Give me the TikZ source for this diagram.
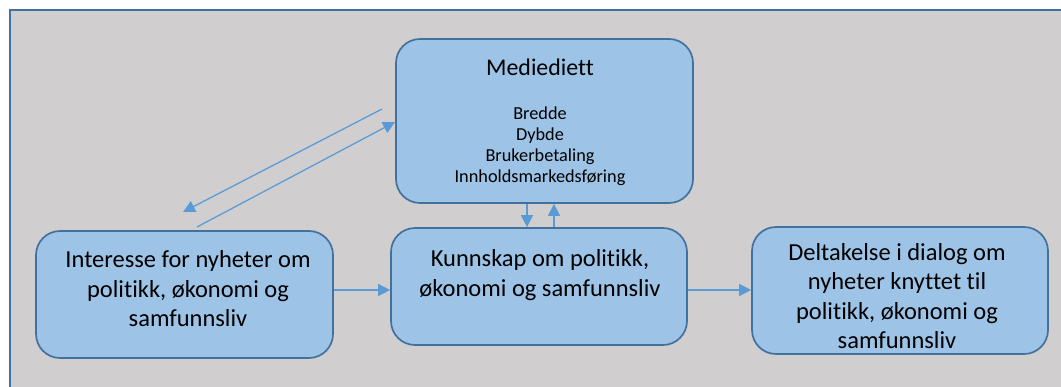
\documentclass[tikz,border=0pt]{standalone}
\usepackage{fontspec}
\setmainfont{Carlito}[Ligatures=NoCommon]
\usetikzlibrary{arrows.meta,fit}
\definecolor{bggray}{HTML}{D0CECE}
\definecolor{boxfill}{HTML}{9DC3E6}
\definecolor{boxline}{HTML}{41719C}
\definecolor{pilblue}{HTML}{5B9BD5}
\tikzset{
	boks/.style={draw=boxline, fill=boxfill, line width=1.2pt, rounded corners=0.6cm, inner sep=0pt},
	tekst/.style={align=center, font=\fontsize{17.4}{21}\selectfont},
	tittel/.style={align=center, font=\fontsize{17}{21}\selectfont},
	liste/.style={align=center, font=\fontsize{13}{15}\selectfont},
	pil/.style={draw=pilblue, line width=0.9pt, -{Triangle[length=8.5pt,width=8.5pt]}}
}
\begin{document}
\begin{tikzpicture}[x=0.025cm, y=-0.025cm]
			\useasboundingbox (0,0) rectangle (1061,387);
			\fill[bggray] (10,10) rectangle (1063,389);
			\draw[boxline, line width=1.4pt] (10,389) -- (10,10) -- (1063,10);

			\node[boks, fit={(396,39) (693,203)}] (mediediett) {};
			\node[boks, fit={(36,231) (333,358)}] (interesse) {};
			\node[boks, fit={(391,228) (687,345)}] (kunnskap) {};
			\node[boks, fit={(752,227) (1048,354)}] (deltakelse) {};

			\node[tittel] (mediediettTittel) at (540,67) {Mediediett};
			\node[liste] (mediediettListe) at (540,146) {Bredde\\Dybde\\Brukerbetaling\\Innholdsmarkedsføring};
			\node[tekst] (interesseTekst) at (188,289) {Interesse for nyheter om\\politikk, økonomi og\\samfunnsliv};
			\node[tekst] (kunnskapTekst) at (540,275) {Kunnskap om politikk,\\økonomi og samfunnsliv};
			\node[tekst] (deltakelseTekst) at (897,296) {Deltakelse i dialog om\\nyheter knyttet til\\politikk, økonomi og\\samfunnsliv};

			\coordinate (h) at (0,290);
			\coordinate (ned) at (527,0);
			\coordinate (opp) at (554,0);
			\coordinate (diagA) at (382,109);
			\coordinate (diagB) at (183,212);
			\coordinate (diagC) at (197,227);
			\coordinate (diagD) at (395,122);

			\draw[pil] (interesse.east |- h) -- (kunnskap.west |- h);
			\draw[pil] (kunnskap.east |- h) -- (deltakelse.west |- h);
			\draw[pil] (mediediett.south -| ned) -- (kunnskap.north -| ned);
			\draw[pil] (kunnskap.north -| opp) -- (mediediett.south -| opp);
			\draw[pil] (diagA) -- (diagB);
			\draw[pil] (diagC) -- (diagD);
		\end{tikzpicture}
\end{document}
